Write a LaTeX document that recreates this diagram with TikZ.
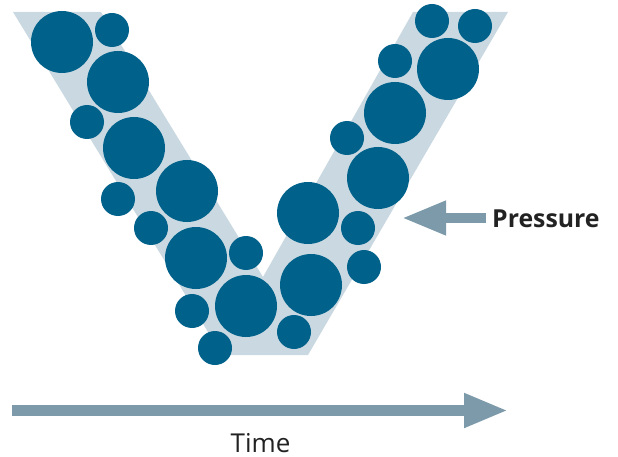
\documentclass[tikz,border=0pt]{standalone}
\usepackage{fontspec}
\setmainfont{Open Sans}
\usepackage{tikz}
\usetikzlibrary{arrows.meta}
\definecolor{bandgray}{HTML}{C9D8E1}
\definecolor{dotblue}{HTML}{00628B}
\definecolor{arrowgray}{HTML}{7D9AAA}
\definecolor{labelgray}{HTML}{222222}
\tikzset{
ball/.style={circle, fill=dotblue, inner sep=0pt},
big/.style={ball, minimum size=62pt},
small/.style={ball, minimum size=34pt},
fat/.style={draw=arrowgray, line width=10.5pt,
  -{Triangle[length=44pt, width=32pt]}},
label/.style={font=\fontsize{26}{30}\selectfont, text=labelgray, inner sep=2pt}
}

\begin{document}
\begin{tikzpicture}[x=1pt, y=-1pt]
\useasboundingbox (0,0) rectangle (618,457);

% the V
\fill[bandgray] (13,12) -- (101,12) -- (263,277) -- (413,12) -- (508,12)
  -- (308,355) -- (222,355) -- cycle;

% left arm
\node(l1)	[big]	at (62,42)	{};
\node(l2)	[small]	at (112,30)	{};
\node(l3)	[big]	at (118,82)	{};
\node(l4)	[small]	at (87,122)	{};
\node(l5)	[big]	at (134,148)	{};
\node(l6)	[small]	at (118,199)	{};
\node(l7)	[big]	at (187,191)	{};
\node(l8)	[small]	at (151,228)	{};
\node(l9)	[big]	at (196,258)	{};
\node(l10)	[small]	at (246,253)	{};
\node(l11)	[small]	at (192,311)	{};
\node(l12)	[big]	at (246,306)	{};
\node(l13)	[small]	at (215,348)	{};

% right arm
\node(r1)	[small]	at (432,21)	{};
\node(r2)	[small]	at (475,26)	{};
\node(r3)	[big]	at (448,69)	{};
\node(r4)	[small]	at (395,61)	{};
\node(r5)	[big]	at (395,113)	{};
\node(r6)	[small]	at (347,138)	{};
\node(r7)	[big]	at (378,178)	{};
\node(r8)	[big]	at (308,213)	{};
\node(r9)	[small]	at (358,228)	{};
\node(r10)	[small]	at (364,267)	{};
\node(r11)	[big]	at (311,285)	{};
\node(r12)	[small]	at (294,332)	{};

% pressure
\coordinate(pin) at (402,218);
\node(press)	[label, anchor=base west, font=\fontsize{24.8}{30}\selectfont\bfseries]
  at (490,227)	{Pressure};
\draw[fat, line width=10pt] ([xshift=-4pt]press.west |- pin) -- (pin);

% time
\coordinate(t0) at (12,410.5);
\coordinate(t1) at (508,410.5);
\draw[fat] (t0) -- (t1);
\node(time)	[label, anchor=base]	at (260.5,452.5)	{Time};
\end{tikzpicture}
\end{document}
